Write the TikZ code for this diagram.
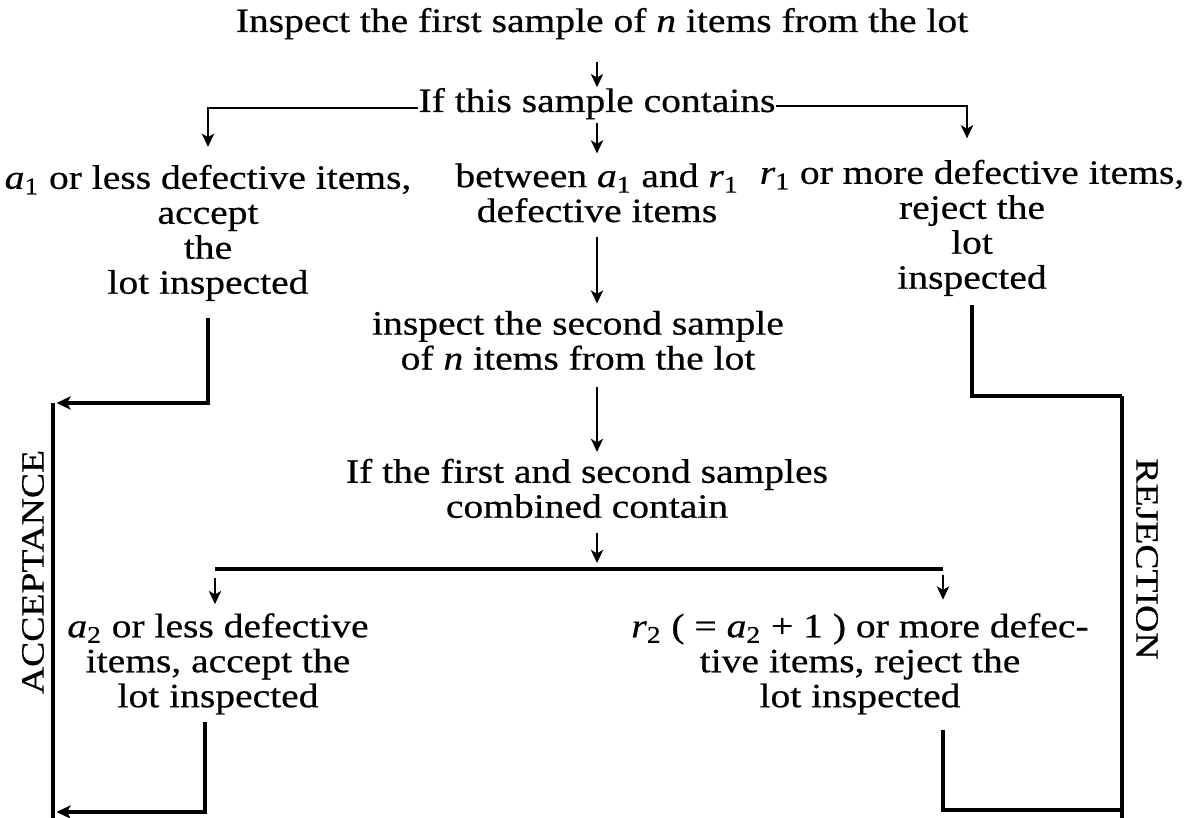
\documentclass[tikz,border=0pt]{standalone}
\usepackage{fontspec}
\setmainfont{Liberation Serif}[FakeStretch=1.16,FakeBold=0.5]
\usetikzlibrary{arrows.meta,calc}
\newcommand\vsub[2]{\textit{#1}\textsubscript{#2}}
\begin{document}
\begin{tikzpicture}[x=0.02cm,y=-0.02cm,
  txt/.style={align=center,inner sep=0pt,font=\fontsize{19.4}{19.9}\selectfont,
    execute at begin node=\strut, execute at end node=\strut},
  lbl/.style={inner sep=0pt,font=\fontsize{18.5}{19.9}\selectfont},
  sarr/.style={line width=1.1pt,-{Stealth[length=7.5pt,width=7pt,inset=2pt]}},
  hline/.style={line width=1.6pt},
  thk/.style={line width=2.2pt},
  barr/.style={thk,-{Stealth[length=8pt,width=7.5pt,inset=2pt]}}]
\fill[white] (0,0) rectangle (1197,818);
\useasboundingbox (0,0) rectangle (1197,818);

% nodes
\node[txt] (title) at (602,25) {Inspect the first sample of \textit{n} items from the lot};
\node[txt] (cond1) at (597,105) {If this sample contains};
\node[txt] (acc1) at (208,234.5) {\vsub{a}{1} or less defective items,\\accept\\the\\lot inspected};
\node[txt] (mid1) at (597,198) {between \vsub{a}{1} and \vsub{r}{1}\\defective items};
\node[txt] (rej1) at (972,229.5) {\vsub{r}{1} or more defective items,\\reject the\\lot\\inspected};
\node[txt] (insp2) at (578,345.5) {inspect the second sample\\of \textit{n} items from the lot};
\node[txt] (cond2) at (587,493.5) {If the first and second samples\\combined contain};
\node[txt] (acc2) at (218,665.5) {\vsub{a}{2} or less defective\\items, accept the\\lot inspected};
\node[txt] (rej2) at (860,665.5) {\vsub{r}{2} ( = \vsub{a}{2} + 1 ) or more defec-\\tive items, reject the\\lot inspected};
\node[lbl,rotate=90] (acclab) at (33,572) {ACCEPTANCE};
\node[lbl,rotate=-90] (rejlab) at (1147,559) {REJECTION};

% coordinates for free ends
\coordinate (barL) at (215,569);
\coordinate (barR) at (943,569);
\coordinate (accTop) at (53,403);
\coordinate (accB2) at (53,812);
\coordinate (accBot) at (53,818);
\coordinate (rejTop) at (1122,396);
\coordinate (rejB2) at (1122,810);
\coordinate (rejBot) at (1122,818);

% top part
\draw[sarr,shorten <=11pt] (title.south -| cond1.north) -- (cond1.north);
\draw[sarr,shorten >=5.5pt] (cond1.south) -- (cond1.south |- mid1.north);
\draw[hline,-{Stealth[length=7.5pt,width=7pt,inset=2pt]},shorten >=10pt] ([yshift=-0.06cm]cond1.west) -| (acc1.north);
\draw[hline,-{Stealth[length=7.5pt,width=7pt,inset=2pt]},shorten >=12pt] ([yshift=-0.02cm]cond1.east) -| ([xshift=-0.1cm]rej1.north);

% middle column
\draw[sarr,shorten <=2.5pt,shorten >=4pt] (mid1.south) -- (mid1.south |- insp2.north);
\draw[sarr,shorten <=3.5pt,shorten >=3.7pt] (insp2.south -| mid1.south) -- (cond2.north -| mid1.south);
\draw[sarr,shorten <=2.5pt,shorten >=3.4pt] (cond2.south -| mid1.south) -- (barL -| mid1.south);
\draw[thk] (barL) -- (barR);
\draw[sarr,shorten <=5pt,shorten >=5pt] (barL) -- (barL |- acc2.north);
\draw[sarr,shorten <=3.4pt,shorten >=7.6pt] (barR) -- (barR |- rej2.north);

% acceptance side
\draw[thk] (accTop) -- (accBot);
\draw[barr,shorten <=7.6pt,shorten >=2pt] (acc1.south) |- (accTop);
\draw[barr,shorten <=2.5pt,shorten >=2pt] ([xshift=-0.26cm]acc2.south) |- (accB2);

% rejection side
\draw[thk] (rejTop) -- (rejBot);
\draw[thk,shorten <=3pt] (rej1.south) |- (rejTop);
\draw[thk,shorten <=7pt] (barR |- rej2.south) |- (rejB2);
\end{tikzpicture}
\end{document}
